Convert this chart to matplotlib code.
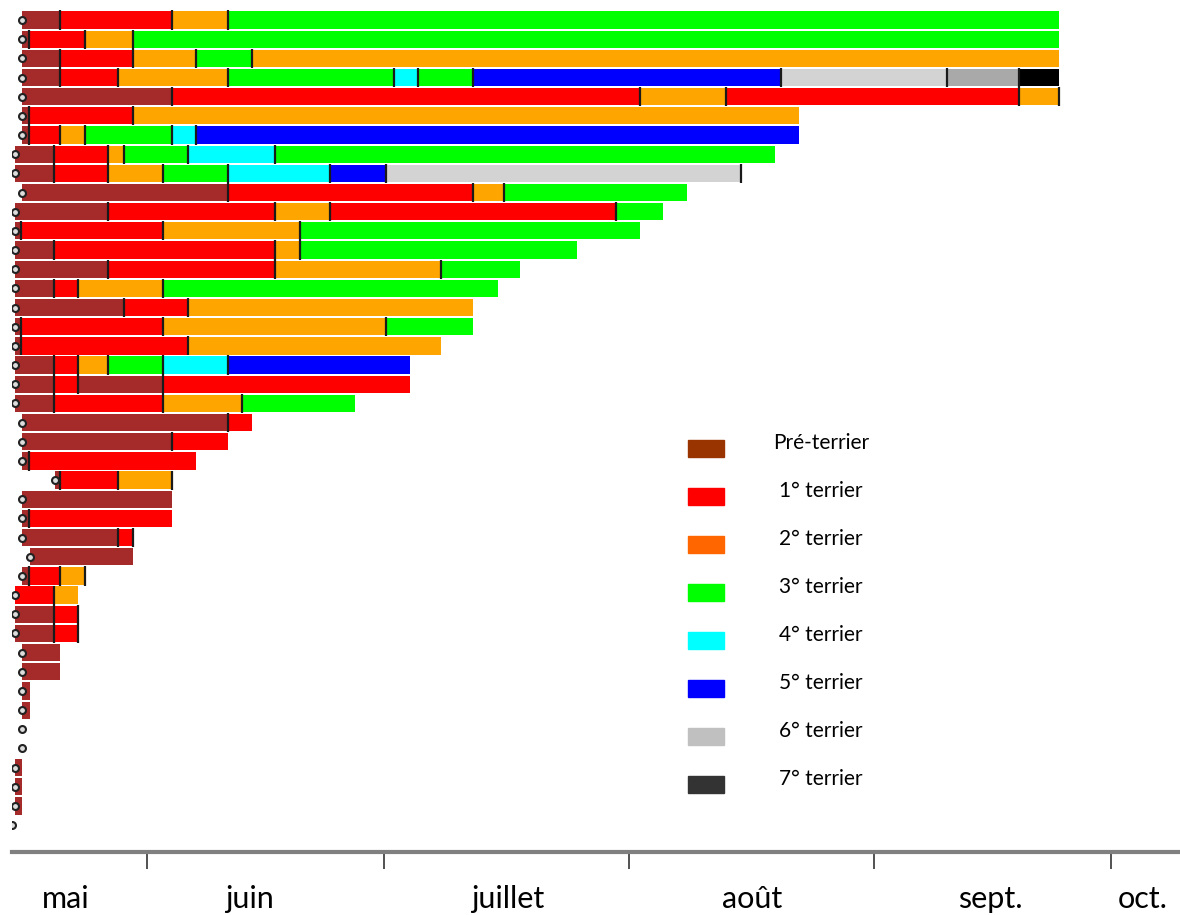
import matplotlib
matplotlib.use("Agg")
import matplotlib.pyplot as plt
from matplotlib.patches import Rectangle

plt.rcParams['font.family'] = ['Lato', 'DejaVu Sans']

# ================== data (days since 1 May) ==================
row_start = [
    15.2, 15.2, 15.2, 15.2, 15.2, 15.2, 15.2, 14.3, 14.3, 15.2,
    14.3, 14.3, 14.3, 14.3, 14.3, 14.3, 14.3, 14.3, 14.3, 14.3,
    14.3, 15.2, 15.2, 15.2, 19.4, 15.2, 15.2, 15.2, 16.2, 15.2,
    14.3, 14.3, 14.3, 15.2, 15.2, 15.2, 15.2, 15.2, 15.2, 14.3,
    14.3, 14.3, 13.9]

# stage of each segment: 0 = pre-terrier, 1..8 = terrier number
row_stage = [
    [0, 1, 2, 3], [0, 1, 2, 3], [0, 1, 2, 3, 2],
    [0, 1, 2, 3, 4, 3, 5, 6, 7, 8], [0, 1, 2, 1, 2], [0, 1, 2],
    [0, 1, 2, 3, 4, 5], [0, 1, 2, 3, 4, 3], [0, 1, 2, 3, 4, 5, 6],
    [0, 1, 2, 3], [0, 1, 2, 1, 3], [0, 1, 2, 3], [0, 1, 2, 3],
    [0, 1, 2, 3], [0, 1, 2, 3], [0, 1, 2], [0, 1, 2, 3], [0, 1, 2],
    [0, 1, 2, 3, 4, 5], [0, 1, 0, 1], [0, 1, 2, 3], [0, 1], [0, 1],
    [0, 1], [0, 1, 2], [0], [0, 1], [0, 1], [0], [0, 1, 2], [1, 2],
    [0, 1], [0, 1], [0], [0], [0], [0], [], [], [0], [0], [0], []]

row_end = [
    [20.0, 34.2, 41.2, 146.5], [16.1, 23.1, 29.2, 146.5],
    [20.0, 29.2, 37.2, 44.3, 146.5],
    [20.0, 27.3, 41.2, 62.3, 65.3, 72.3, 111.3, 132.3, 141.4, 146.5],
    [34.2, 93.4, 104.3, 141.4, 146.4], [16.1, 29.2, 113.5],
    [16.1, 20.0, 23.1, 34.2, 37.2, 113.5],
    [19.2, 26.1, 28.1, 36.2, 47.2, 110.5],
    [19.2, 26.1, 33.0, 41.2, 54.2, 61.2, 106.2],
    [41.2, 72.3, 76.2, 99.4], [26.1, 47.2, 54.2, 90.4, 96.3],
    [15.1, 33.0, 50.4, 93.4], [19.2, 47.2, 50.4, 85.4],
    [26.1, 47.2, 68.2, 78.2], [19.2, 22.3, 33.0, 75.4],
    [28.1, 36.2, 72.3], [15.1, 33.0, 61.2, 72.3], [15.1, 36.2, 68.2],
    [19.2, 22.3, 26.1, 33.0, 41.2, 64.3], [19.2, 22.3, 33.0, 64.3],
    [19.2, 33.0, 43.0, 57.3], [41.2, 44.3], [34.2, 41.2], [16.1, 37.2],
    [20.0, 27.3, 34.2], [34.2], [16.1, 34.2], [27.3, 29.2], [29.2],
    [16.1, 20.0, 23.1], [19.2, 22.3], [19.2, 22.3], [19.2, 22.3],
    [20.0], [20.0], [16.2], [16.2], [], [], [15.2], [15.2], [15.2], []]

# rows whose last segment is closed by a mark
end_mark_rows = [4, 8, 24, 27, 29, 31, 32]

month_starts = [31, 61, 92, 123, 153]
month_labels = ['mai', 'juin', 'juillet', 'août', 'sept.', 'oct.']
month_label_pos = [20.7, 44.0, 76.7, 107.6, 137.7, 157.1]

legend_labels = ['Pré-terrier', '1° terrier', '2° terrier', '3° terrier',
                 '4° terrier', '5° terrier', '6° terrier', '7° terrier']
legend_colors = ['#993300', '#FF0000', '#FF6600', '#00FF00',
                 '#00FFFF', '#0000FF', '#C0C0C0', '#333333']

stage_colors = ['#A52A2A', '#FF0000', '#FFA500', '#00FF00', '#00FFFF',
                '#0000FF', '#D3D3D3', '#A9A9A9', '#000000']

# ================== figure ==================
W, H = 1180, 915
fig = plt.figure(figsize=(W / 100, H / 100), dpi=100)
ax = fig.add_axes([12 / W, 63 / H, (W - 12) / W, 852 / H])

for i, (x0, stages, ends) in enumerate(zip(row_start, row_stage, row_end)):
    left = x0
    for k, (s, e) in enumerate(zip(stages, ends)):
        ax.barh(i, e - left, left=left, height=0.9, color=stage_colors[s],
                linewidth=0)
        if k > 0:
            ax.vlines(left, i - 0.5, i + 0.5, color='#1a1a1a', lw=1.6, zorder=3)
        left = e
    if i in end_mark_rows:
        ax.vlines(left, i - 0.5, i + 0.5, color='#1a1a1a', lw=1.6, zorder=3)
    ax.plot(x0, i, 'o', ms=5.0, mfc='#dddddd', mec='#222222', mew=1.5, zorder=4)

ax.set_xlim(13.91, 161.76)
ax.set_ylim(43.40, -1.043)

for sp in ['top', 'left', 'right']:
    ax.spines[sp].set_visible(False)
ax.spines['bottom'].set_color('#808080')
ax.spines['bottom'].set_linewidth(3)
ax.set_yticks([])
ax.set_xticks(month_starts)
ax.set_xticklabels([''] * len(month_starts))
ax.tick_params(axis='x', which='major', length=12, width=1.3, color='#444444')
ax.set_xticks(month_label_pos, minor=True)
ax.set_xticklabels(month_labels, minor=True, fontsize=22)
ax.tick_params(axis='x', which='minor', length=0, pad=24)

# ================== legend ==================
leg_y = [448, 496, 544, 592, 640, 688, 736, 784]
for lab, col, yc in zip(legend_labels, legend_colors, leg_y):
    fig.add_artist(Rectangle((688 / W, 1 - (yc + 8.5) / H), 36 / W, 17 / H,
                             color=col, transform=fig.transFigure))
    fig.text(821 / W, 1 - (yc - 5) / H, lab, ha='center', va='center',
             fontsize=15)

plt.savefig('out.png', dpi=100)
